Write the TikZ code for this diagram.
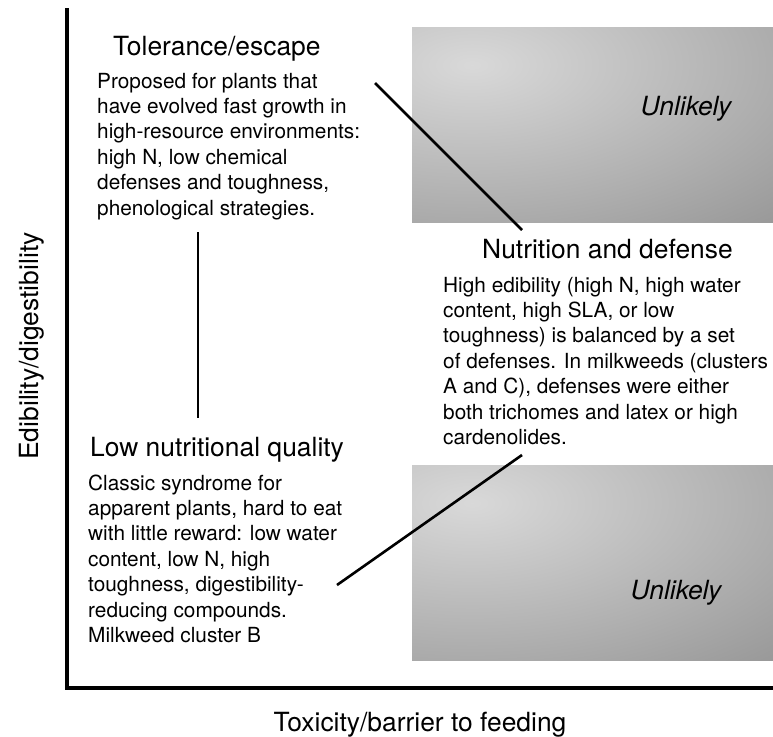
\documentclass[tikz,border=0pt]{standalone}
\usepackage{fontspec}
\setmainfont{TeX Gyre Heros}
\usetikzlibrary{positioning,calc}
\tikzset{
  head/.style={anchor=base west,inner sep=0pt,font=\fontsize{26.4}{30}\selectfont},
  body/.style={anchor=base west,inner sep=0pt,align=left,font=\fontsize{20.8}{25.4}\selectfont},
  axlabel/.style={anchor=base,inner sep=0pt,font=\fontsize{26.4}{30}\selectfont},
  unlikely/.style={anchor=base,inner sep=0pt,font=\fontsize{26.4}{30}\selectfont\itshape},
  link/.style={line width=2.6pt},
  axis/.style={line width=3.2pt},
}
% grey box, light near its upper left, darker towards the edges
\newcommand\fadebox[2]{%
  \begin{scope}
    \clip #1 rectangle #2;
    \shade[inner color=black!15,outer color=black!50] ($#1+(60,38)$) ellipse (620 and 300);
  \end{scope}}

\begin{document}
\begin{tikzpicture}[x=1pt,y=-1pt]
  \useasboundingbox (0,0) rectangle (773,736);

  % the two unlikely corners
  \fadebox{(412,27)}{(773,222)}
  \fadebox{(412,465)}{(773,660)}
  \node[unlikely] (unltop) at (686,115) {Unlikely};
  \node[unlikely] (unlbot) at (676,599) {Unlikely};

  % axes
  \coordinate (ytop) at (67,8);
  \coordinate (origin) at (67,688);
  \coordinate (xend) at (773,688);
  \draw[axis] (ytop) -- (origin) -- (xend);
  \node[axlabel,rotate=90] (ylab) at (38,346) {Edibility/digestibility};
  \node[axlabel] (xlab) at (420,731) {Toxicity/barrier to feeding};

  % syndromes (body nodes sit on the baseline of their last line)
  \node[head] (tolhead) at (113,55) {Tolerance/escape};
  \node[body] (tolbody) at (97,215) {Proposed for plants that\\have evolved fast growth in\\high-resource environments:\\high N, low chemical\\defenses and toughness,\\phenological strategies.};
  \node[head] (nuthead) at (482,258) {Nutrition and defense};
  \node[body] (nutbody) at (443,444.5) {High edibility (high N, high water\\content, high SLA, or low\\toughness) is balanced by a set\\of defenses. In milkweeds (clusters\\A and C), defenses were either\\both trichomes and latex or high\\cardenolides.};
  \node[head] (lowhead) at (90,456) {Low nutritional quality};
  \node[body] (lowbody) at (88,642.5) {Classic syndrome for\\apparent plants, hard to eat\\with little reward: low water\\content, low N, high\\toughness, digestibility-\\reducing compounds.\\Milkweed cluster B};

  % links between syndromes
  \coordinate (tolend) at (375,83);
  \coordinate (nuttop) at (522,230);
  \coordinate (tolfoot) at (198,232);
  \coordinate (lowtop) at (198,418);
  \coordinate (lowend) at (337,585);
  \coordinate (nutfoot) at (522,455);
  \draw[link] (tolend) -- (nuttop);
  \draw[link] (tolfoot) -- (lowtop);
  \draw[link] (lowend) -- (nutfoot);
\end{tikzpicture}
\end{document}
